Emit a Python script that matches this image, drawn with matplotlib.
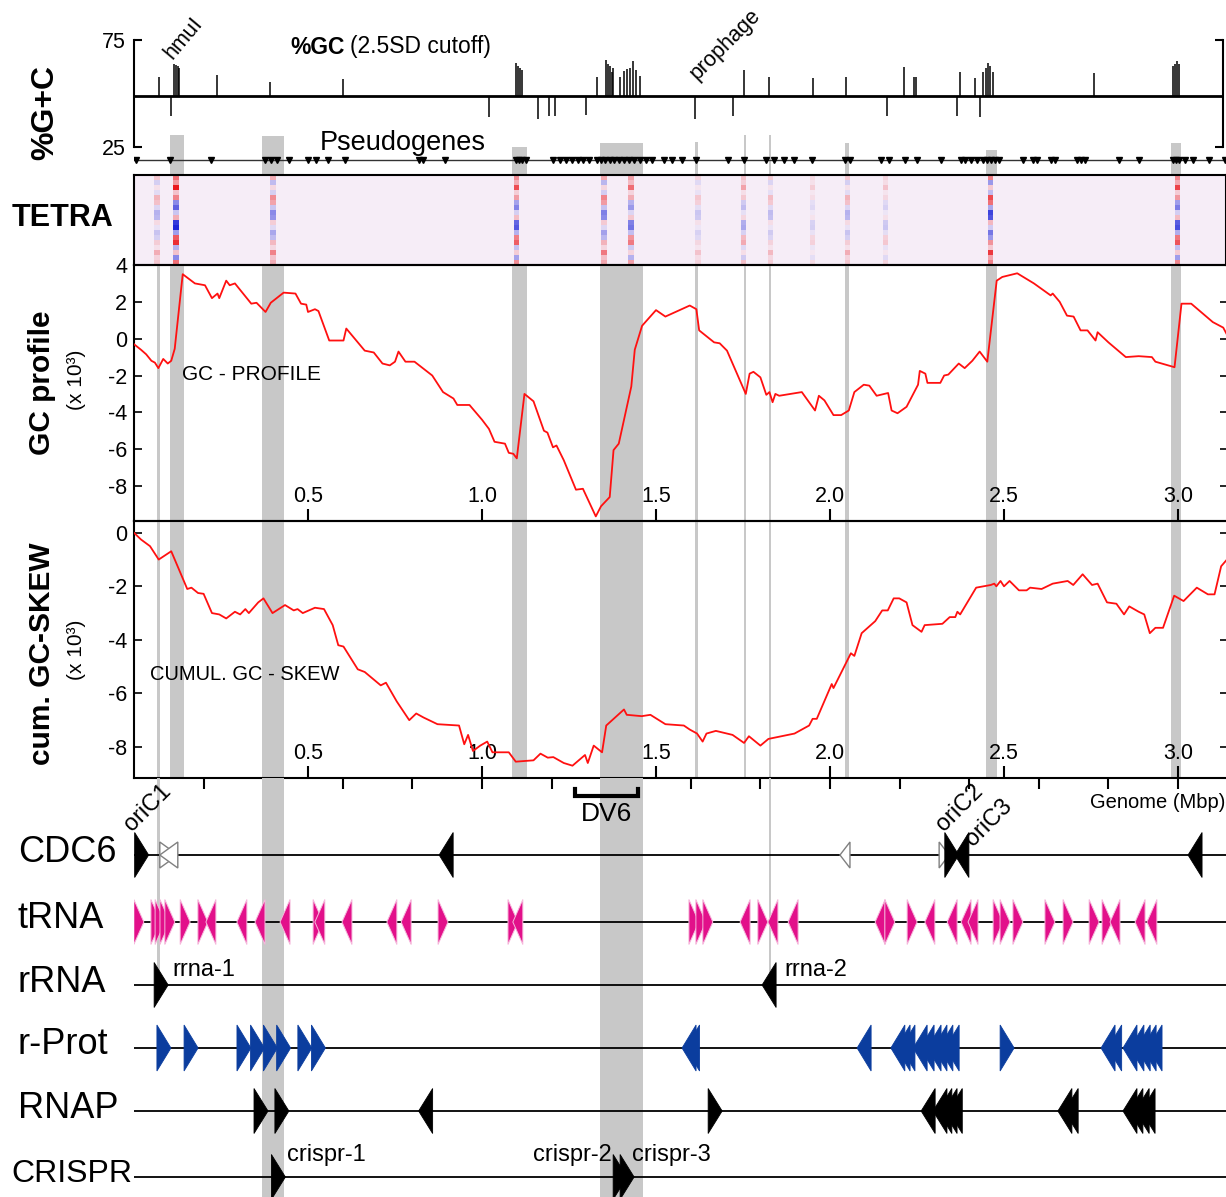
import matplotlib
matplotlib.use("Agg")
import matplotlib.pyplot as plt
import numpy as np
from matplotlib.patches import Polygon

plt.rcParams['font.family'] = ['Liberation Sans', 'DejaVu Sans']
plt.rcParams['axes.unicode_minus'] = False

# ---------------- data (genome position in Mbp) ----------------
GC_MEAN = 48.8
GC_UP_X = [0.072, 0.115, 0.121, 0.126, 0.129, 0.239, 0.391, 0.601,
           1.098, 1.103, 1.109, 1.115, 1.330, 1.356, 1.362, 1.368, 1.374, 1.376,
           1.397, 1.408, 1.417, 1.425, 1.434, 1.443, 1.454, 1.754, 1.825, 1.951,
           2.046, 2.213, 2.241, 2.247, 2.374, 2.417, 2.440, 2.448, 2.454, 2.460,
           2.468, 2.759, 2.986, 2.991, 2.997, 3.003]
GC_UP_V = [57.7, 64.0, 63.5, 63.0, 62.0, 58.6, 55.4, 56.8,
           64.3, 63.0, 62.0, 61.0, 57.7, 65.7, 64.0, 63.0, 60.0, 62.0,
           57.7, 60.5, 61.5, 62.0, 65.0, 61.0, 58.0, 61.0, 57.7, 57.2,
           57.7, 62.4, 57.7, 57.7, 60.0, 57.2, 60.0, 62.0, 64.3, 63.0,
           60.0, 59.6, 63.0, 64.0, 65.0, 64.0]
GC_DOWN_X = [0.106, 1.020, 1.161, 1.193, 1.210, 1.299, 1.612, 1.720, 2.163, 2.365, 2.431]
GC_DOWN_V = [39.5, 39.0, 38.0, 39.5, 39.5, 40.0, 38.0, 39.5, 39.5, 39.5, 39.0]

PSEUDO_X = [0.006, 0.103, 0.221, 0.376, 0.394, 0.411, 0.445, 0.500, 0.523, 0.557,
            0.606, 0.819, 0.830, 0.894, 1.098, 1.106, 1.115, 1.126, 1.204, 1.224,
            1.241, 1.259, 1.276, 1.290, 1.307, 1.330, 1.342, 1.353, 1.368, 1.379,
            1.394, 1.408, 1.422, 1.437, 1.454, 1.471, 1.489, 1.523, 1.546, 1.575,
            1.615, 1.707, 1.753, 1.816, 1.839, 1.868, 1.897, 1.948, 2.043, 2.057,
            2.147, 2.170, 2.216, 2.250, 2.319, 2.376, 2.388, 2.405, 2.422, 2.440,
            2.451, 2.463, 2.474, 2.486, 2.555, 2.583, 2.595, 2.635, 2.647, 2.710,
            2.721, 2.733, 2.830, 2.888, 2.986, 2.994, 3.003, 3.020, 3.043, 3.089, 3.135]

# TETRA: strongly deviating windows and the row pattern seen in them
TETRA_HOT_X = [0.066, 0.120, 0.400, 1.100, 1.350, 1.430, 1.620, 1.750, 1.830, 1.950, 2.050, 2.160, 2.460, 3.000]
TETRA_HOT_A = [0.3, 1.0, 0.5, 0.75, 0.55, 0.6, 0.2, 0.35, 0.25, 0.15, 0.3, 0.2, 0.85, 0.8]
TETRA_ROWS = [0.6, -0.5, 0.2, -0.3, 0.9, 0.7, -0.4, -1.0, -0.9, 0.3,
              -0.2, -0.7, -0.5, 0.5, 0.2, 1.0, 0.4, 0.6]

PROF_X = [0.0, 0.02, 0.035, 0.05, 0.06, 0.07, 0.084, 0.097, 0.107, 0.117,
          0.14, 0.175, 0.204, 0.224, 0.24, 0.245, 0.265, 0.275, 0.29, 0.337,
          0.352, 0.378, 0.393, 0.43, 0.464, 0.48, 0.495, 0.5, 0.52, 0.53,
          0.561, 0.602, 0.61, 0.643, 0.663, 0.689, 0.714, 0.735, 0.75, 0.76,
          0.78, 0.806, 0.857, 0.888, 0.918, 0.929, 0.964, 1.0, 1.02, 1.036,
          1.066, 1.077, 1.09, 1.1, 1.122, 1.148, 1.178, 1.188, 1.204, 1.214,
          1.235, 1.27, 1.29, 1.327, 1.342, 1.367, 1.378, 1.393, 1.429, 1.439,
          1.46, 1.5, 1.527, 1.597, 1.616, 1.624, 1.667, 1.683, 1.704, 1.758,
          1.769, 1.78, 1.8, 1.817, 1.826, 1.835, 1.843, 1.854, 1.919, 1.957,
          1.968, 1.984, 2.01, 2.032, 2.054, 2.07, 2.097, 2.113, 2.134, 2.167,
          2.177, 2.194, 2.22, 2.253, 2.258, 2.274, 2.28, 2.317, 2.328, 2.34,
          2.37, 2.387, 2.409, 2.43, 2.452, 2.479, 2.495, 2.538, 2.586, 2.634,
          2.64, 2.66, 2.681, 2.7, 2.72, 2.74, 2.763, 2.769, 2.8, 2.85,
          2.887, 2.925, 2.935, 2.99, 3.01, 3.038, 3.1, 3.13, 3.144]
PROF_Y = [-0.3, -0.6, -0.85, -1.2, -1.3, -1.6, -1.1, -1.35, -1.2, -0.55,
          3.5, 3.0, 2.9, 2.2, 2.45, 2.2, 3.15, 2.9, 3.0, 1.9,
          1.95, 1.45, 1.95, 2.5, 2.45, 1.9, 1.85, 1.45, 1.6, 1.5,
          -0.1, -0.1, 0.55, -0.2, -0.65, -0.75, -1.35, -1.45, -1.25, -0.7,
          -1.25, -1.25, -2.0, -2.9, -3.25, -3.6, -3.6, -4.4, -4.9, -5.6,
          -5.7, -6.2, -6.25, -6.5, -3.0, -3.4, -5.0, -5.1, -5.9, -5.8,
          -6.6, -8.2, -8.15, -9.65, -9.1, -8.6, -6.05, -5.7, -2.6, -0.6,
          0.7, 1.55, 1.2, 1.8, 1.6, 0.45, -0.2, -0.25, -0.65, -3.0,
          -1.9, -1.8, -2.1, -3.05, -2.9, -3.45, -3.0, -3.1, -2.9, -3.9,
          -3.1, -3.35, -4.15, -4.15, -3.9, -2.9, -2.5, -2.55, -3.1, -2.95,
          -3.9, -4.05, -3.7, -2.5, -1.75, -1.9, -2.4, -2.4, -2.0, -1.95,
          -1.35, -1.6, -1.2, -0.7, -1.25, 3.15, 3.35, 3.55, 3.0, 2.35,
          2.45, 2.0, 1.25, 1.2, 0.45, 0.45, -0.1, 0.35, -0.2, -1.0,
          -0.95, -1.0, -1.25, -1.55, 1.9, 1.9, 0.9, 0.6, 0.1]

SKEW_X = [0.0, 0.02, 0.046, 0.071, 0.107, 0.153, 0.165, 0.184, 0.2, 0.224,
          0.245, 0.265, 0.29, 0.305, 0.32, 0.33, 0.357, 0.372, 0.398, 0.434,
          0.459, 0.47, 0.485, 0.52, 0.546, 0.571, 0.587, 0.602, 0.643, 0.663,
          0.709, 0.724, 0.755, 0.791, 0.811, 0.832, 0.872, 0.934, 0.949, 0.96,
          0.974, 0.995, 1.015, 1.03, 1.077, 1.097, 1.148, 1.168, 1.189, 1.205,
          1.235, 1.26, 1.296, 1.304, 1.321, 1.345, 1.357, 1.408, 1.416, 1.459,
          1.484, 1.527, 1.58, 1.597, 1.618, 1.634, 1.645, 1.672, 1.72, 1.753,
          1.767, 1.8, 1.823, 1.898, 1.94, 1.95, 1.962, 2.005, 2.01, 2.06,
          2.07, 2.091, 2.13, 2.15, 2.166, 2.183, 2.199, 2.22, 2.237, 2.263,
          2.272, 2.323, 2.344, 2.36, 2.366, 2.374, 2.42, 2.462, 2.472, 2.478,
          2.49, 2.5, 2.516, 2.543, 2.565, 2.575, 2.608, 2.64, 2.683, 2.699,
          2.726, 2.753, 2.769, 2.796, 2.823, 2.845, 2.86, 2.887, 2.903, 2.919,
          2.935, 2.957, 2.989, 3.016, 3.054, 3.086, 3.105, 3.124, 3.144]
SKEW_Y = [0.0, -0.25, -0.5, -1.0, -0.69, -2.1, -2.05, -2.25, -2.28, -3.0,
          -3.05, -3.2, -2.95, -3.05, -2.85, -3.0, -2.6, -2.45, -3.0, -2.7,
          -2.9, -2.85, -3.0, -2.8, -2.85, -3.45, -4.2, -4.25, -5.1, -5.2,
          -5.7, -5.6, -6.3, -7.0, -6.75, -6.9, -7.15, -7.2, -7.9, -7.55,
          -8.15, -7.95, -7.8, -8.2, -8.2, -8.55, -8.5, -8.25, -8.4, -8.38,
          -8.6, -8.7, -8.3, -8.6, -7.95, -8.2, -7.2, -6.6, -6.8, -6.85,
          -6.8, -7.15, -7.2, -7.35, -7.5, -7.8, -7.5, -7.4, -7.55, -7.85,
          -7.6, -7.95, -7.7, -7.5, -7.2, -6.95, -6.95, -5.65, -5.8, -4.5,
          -4.6, -3.75, -3.3, -2.9, -2.9, -2.45, -2.45, -2.6, -3.45, -3.7,
          -3.45, -3.4, -3.15, -3.15, -2.95, -3.05, -2.05, -1.95, -1.9, -2.0,
          -1.8, -2.0, -1.8, -2.15, -2.15, -2.05, -2.1, -1.9, -1.8, -1.95,
          -1.55, -1.95, -1.9, -2.6, -2.65, -3.05, -2.75, -2.95, -3.05, -3.75,
          -3.55, -3.55, -2.35, -2.55, -2.05, -2.3, -2.3, -1.25, -0.95]

BAND_START = [0.066, 0.103, 0.368, 1.086, 1.339, 1.612, 1.753, 1.825, 2.043, 2.448, 2.980]
BAND_END = [0.075, 0.144, 0.431, 1.129, 1.463, 1.621, 1.759, 1.830, 2.055, 2.480, 3.010]

CDC6_X = [0.022, 0.100, 0.100, 0.897, 2.043, 2.328, 2.350, 2.379, 3.049]
CDC6_DIR = [1, 1, -1, -1, -1, 1, 1, -1, -1]
CDC6_OPEN = [False, True, True, False, True, True, False, False, False]

TRNA_X = [0.014, 0.063, 0.075, 0.089, 0.103, 0.147, 0.198, 0.221, 0.310, 0.362,
          0.434, 0.529, 0.534, 0.612, 0.741, 0.782, 0.888, 1.089, 1.103, 1.609,
          1.629, 1.649, 1.756, 1.807, 1.836, 1.894, 2.144, 2.172, 2.236, 2.287,
          2.351, 2.391, 2.411, 2.483, 2.503, 2.540, 2.632, 2.684, 2.759, 2.796,
          2.819, 2.891, 2.925]
TRNA_DIR = [1, 1, 1, 1, 1, 1, 1, -1, -1, -1,
            -1, 1, -1, -1, -1, -1, 1, 1, -1, 1,
            1, 1, -1, 1, -1, -1, -1, 1, 1, -1,
            -1, -1, -1, 1, 1, 1, 1, 1, 1, 1,
            -1, -1, -1]

RRNA_X = [0.078, 1.825]
RRNA_DIR = [1, -1]

RPROT_X = [0.086, 0.164, 0.316, 0.355, 0.392, 0.430, 0.491, 0.530,
           1.595, 1.605, 2.098, 2.195, 2.210, 2.224, 2.259, 2.279, 2.299, 2.316,
           2.333, 2.351, 2.509, 2.799, 2.818, 2.862, 2.882, 2.900, 2.917, 2.934]
RPROT_DIR = [1, 1, 1, 1, 1, 1, 1, 1,
             -1, -1, -1, -1, -1, -1, -1, -1, -1, -1,
             -1, -1, 1, -1, -1, -1, -1, -1, -1, -1]

RNAP_X = [0.365, 0.425, 0.838, 1.670, 2.282, 2.316, 2.330, 2.345, 2.360,
          2.675, 2.693, 2.862, 2.879, 2.897, 2.914]
RNAP_DIR = [1, 1, -1, 1, -1, -1, -1, -1, -1, -1, -1, -1, -1, -1, -1]

CRISPR_X = [0.415, 1.397, 1.417]
CRISPR_DIR = [1, 1, 1]

DV6 = (1.267, 1.448)
XLAB = [0.5, 1.0, 1.5, 2.0, 2.5, 3.0]

# ---------------- layout (pixels) ----------------
W, H = 1226, 1197
X0 = 134
PPM = 348.0           # pixels per Mbp
BAND_TOP = [265, 135, 136, 147, 143, 142, 135, 135, 143, 150, 143]
BAND_BOT = [1000, 778, 1197, 778, 1197, 778, 778, 985, 778, 778, 778]
GREY = '#c8c8c8'
RED = '#ff1010'

fig = plt.figure(figsize=(W / 100, H / 100), dpi=100)


def box(y0, y1, x1=1228):
    return [X0 / W, 1 - y1 / H, (x1 - X0) / W, (y1 - y0) / H]


def P(x, y):
    return x / W, 1 - y / H


def make_ax(y0, y1, x1=1228):
    ax = fig.add_axes(box(y0, y1, x1))
    ax.set_facecolor('none')
    ax.set_xlim(0, (x1 - X0) / PPM)
    for s, e, t, b in zip(BAND_START, BAND_END, BAND_TOP, BAND_BOT):
        t2, b2 = max(t, y0), min(b, y1)
        if b2 > t2:
            ax.axvspan(s, e, ymin=(y1 - b2) / (y1 - y0), ymax=(y1 - t2) / (y1 - y0),
                       color=GREY, lw=0, zorder=0)
    return ax


# ---- %GC panel ----
ax_gc = make_ax(30, 150, x1=1223)
ax_gc.set_ylim(25 - 3 * 50 / 107, 75 + 10 * 50 / 107)
for s in ['top', 'bottom']:
    ax_gc.spines[s].set_visible(False)
for s in ['left', 'right']:
    ax_gc.spines[s].set_bounds(25, 75)
    ax_gc.spines[s].set_linewidth(1.5)
ax_gc.set_xticks([])
ax_gc.set_yticks([25, 75])
ax_gc.tick_params(axis='y', direction='in', length=6, width=1.5, left=True, right=True,
                  labelsize=15.5, pad=6)
ax_gc.axhline(GC_MEAN, color='black', lw=2, zorder=3)
ax_gc.vlines(GC_UP_X, GC_MEAN, GC_UP_V, color='black', lw=1.1, zorder=3)
ax_gc.vlines(GC_DOWN_X, GC_DOWN_V, GC_MEAN, color='black', lw=1.1, zorder=3)
fig.text(*P(290, 47), '%GC', fontsize=16.5, fontweight='bold', va='center')
fig.text(*P(350, 47), '(2.5SD cutoff)', fontsize=16.5, va='center')
fig.text(*P(172, 60), 'hmuI', fontsize=15.5, rotation=50, rotation_mode='anchor',
         ha='left', va='baseline')
fig.text(*P(697, 80), 'prophage', fontsize=15.5, rotation=45, rotation_mode='anchor',
         ha='left', va='baseline')
fig.text(*P(45, 112), '%G+C', fontsize=23, fontweight='bold', rotation=90,
         ha='center', va='center')

# ---- pseudogenes ----
ax_ps = make_ax(150, 175)
ax_ps.set_ylim(0, 1)
ax_ps.axis('off')
ax_ps.plot([0, ax_ps.get_xlim()[1]], [0.6, 0.6], color='#333333', lw=1, zorder=2)
ax_ps.plot(PSEUDO_X, [0.6] * len(PSEUDO_X), 'v', color='black', ms=5, zorder=3)
fig.text(*P(320, 143), 'Pseudogenes', fontsize=19.5, va='center')

# ---- TETRA ----
ax_t = make_ax(175, 265, x1=1226)
xt = ax_t.get_xlim()[1]
ncol = 1100
xs = (np.arange(ncol) + 0.5) / ncol * xt
rows = np.array(TETRA_ROWS)
val = np.zeros((len(rows), ncol))
for i, (c, a) in enumerate(zip(TETRA_HOT_X, TETRA_HOT_A)):
    m = np.abs(xs - c) < 0.008
    pat = rows if i % 2 == 0 else rows[::-1]
    val[:, m] += a * pat[:, None]
val = np.clip(val, -1, 1)
bg = np.array([0.965, 0.93, 0.97])
red = np.array([0.92, 0.1, 0.12])
blue = np.array([0.12, 0.15, 0.85])
mag = np.abs(val)[..., None]
rgb = bg * (1 - mag) + np.where(val[..., None] > 0, red, blue) * mag
ax_t.imshow(rgb, extent=[0, xt, 0, 1], aspect='auto', interpolation='nearest', zorder=2)
ax_t.set_ylim(0, 1)
ax_t.set_xticks([])
ax_t.set_yticks([])
for s in ax_t.spines.values():
    s.set_linewidth(1.5)
fig.text(*P(62, 218), 'TETRA', fontsize=22, fontweight='bold', ha='center', va='center')


def curve_axes(ax, ylo, yhi, yt, minor):
    ax.set_ylim(ylo, yhi)
    ax.spines['right'].set_visible(False)
    for s in ['left', 'top', 'bottom']:
        ax.spines[s].set_linewidth(1.5)
    ax.set_yticks(yt)
    ax.tick_params(axis='y', direction='in', length=6, width=1.2, left=True, right=True,
                   labelsize=15.5, pad=5)
    ax.set_xticks(XLAB)
    ax.set_xticklabels([])
    ax.tick_params(axis='x', which='major', direction='in', length=9, width=1.5)
    if minor:
        ax.set_xticks(np.arange(0.2, 3.1, 0.2), minor=True)
        ax.xaxis.remove_overlapping_locs = False
        ax.tick_params(axis='x', which='minor', direction='out', length=8, width=1.5)
    for v in XLAB:
        ax.text(v, 0.094, f'{v:.1f}', transform=ax.get_xaxis_transform(), ha='center',
                va='center', fontsize=15.5)


# ---- GC profile ----
ax_p = make_ax(265, 521)
curve_axes(ax_p, -9.9, 4.0, [-8, -6, -4, -2, 0, 2, 4], False)
ax_p.plot(PROF_X, PROF_Y, color=RED, lw=1.3, zorder=3)
fig.text(*P(182, 375), 'GC - PROFILE', fontsize=15, va='center')
fig.text(*P(42, 383), 'GC profile', fontsize=21.5, fontweight='bold', rotation=90,
         ha='center', va='center')
fig.text(*P(77, 380), '(x 10³)', fontsize=15, rotation=90, ha='center', va='center')

# ---- cumulative GC skew ----
ax_s = make_ax(521, 778)
curve_axes(ax_s, -9.16, 0.44, [-8, -6, -4, -2, 0], True)
ax_s.plot(SKEW_X, SKEW_Y, color=RED, lw=1.3, zorder=3)
fig.text(*P(150, 675), 'CUMUL. GC - SKEW', fontsize=14.5, va='center')
fig.text(*P(42, 654), 'cum. GC-SKEW', fontsize=21.5, fontweight='bold', rotation=90,
         ha='center', va='center')
fig.text(*P(77, 650), '(x 10³)', fontsize=15, rotation=90, ha='center', va='center')
fig.text(*P(1225, 802), 'Genome (Mbp)', fontsize=14.5, ha='right', va='center')

# ---- gene tracks ----
ax_g = make_ax(778, 1197)
ax_g.set_ylim(1197, 778)
ax_g.axis('off')
xg = ax_g.get_xlim()[1]


def tri(x, y, d, w, h, fc, ec, lw=0.6):
    if d > 0:
        pts = [(x - w / 2, y - h / 2), (x - w / 2, y + h / 2), (x + w / 2, y)]
    else:
        pts = [(x + w / 2, y - h / 2), (x + w / 2, y + h / 2), (x - w / 2, y)]
    ax_g.add_patch(Polygon(pts, closed=True, fc=fc, ec=ec, lw=lw, zorder=4))


TRACKS = {'CDC6': 855, 'tRNA': 922, 'rRNA': 985, 'r-Prot': 1048, 'RNAP': 1111, 'CRISPR': 1177}
for name, y in TRACKS.items():
    ax_g.plot([0, xg], [y, y], color='black', lw=1.3, zorder=3)
    if name == 'CRISPR':
        fig.text(*P(132, y - 3), name, fontsize=23, va='center', ha='right')
    else:
        fig.text(*P(18, y - 3), name, fontsize=26, va='center')

for x, d, o in zip(CDC6_X, CDC6_DIR, CDC6_OPEN):
    if o:
        w = 18 / PPM if abs(x - 0.1) < 0.01 else 10 / PPM
        tri(x, TRACKS['CDC6'], d, w, 26, 'white', '#808080', lw=1)
    else:
        tri(x, TRACKS['CDC6'], d, 14 / PPM, 45, 'black', 'black')
for x, d in zip(TRNA_X, TRNA_DIR):
    tri(x, TRACKS['tRNA'], d, 10 / PPM, 45, '#e2108a', '#f6b8dc', lw=0.7)
for x, d in zip(RRNA_X, RRNA_DIR):
    tri(x, TRACKS['rRNA'], d, 14 / PPM, 45, 'black', 'black')
for x, d in zip(RPROT_X, RPROT_DIR):
    tri(x, TRACKS['r-Prot'], d, 14 / PPM, 46, '#0b3d9e', '#0b3d9e')
for x, d in zip(RNAP_X, RNAP_DIR):
    tri(x, TRACKS['RNAP'], d, 14 / PPM, 45, 'black', 'black')
for x, d in zip(CRISPR_X, CRISPR_DIR):
    tri(x, TRACKS['CRISPR'], d, 14 / PPM, 45, 'black', 'black')

ax_g.text(0.11, 970, 'rrna-1', fontsize=17, va='center')
ax_g.text(1.87, 970, 'rrna-2', fontsize=17, va='center')
ax_g.text(0.44, 1155, 'crispr-1', fontsize=17, va='center')
ax_g.text(1.374, 1155, 'crispr-2', fontsize=17, va='center', ha='right')
ax_g.text(1.431, 1155, 'crispr-3', fontsize=17, va='center')
ax_g.text(-0.006, 832, 'oriC1', fontsize=17, rotation=45, rotation_mode='anchor',
          ha='left', va='baseline', clip_on=False)
ax_g.text(2.328, 832, 'oriC2', fontsize=17, rotation=45, rotation_mode='anchor',
          ha='left', va='baseline')
ax_g.text(2.41, 847, 'oriC3', fontsize=17, rotation=45, rotation_mode='anchor',
          ha='left', va='baseline')

ax_g.plot([DV6[0], DV6[0], DV6[1], DV6[1]], [789, 796, 796, 789], color='black', lw=3,
          solid_joinstyle='miter', zorder=4)
ax_g.text(sum(DV6) / 2, 814, 'DV6', fontsize=19, ha='center', va='center')

fig.savefig('out.png', dpi=100)
